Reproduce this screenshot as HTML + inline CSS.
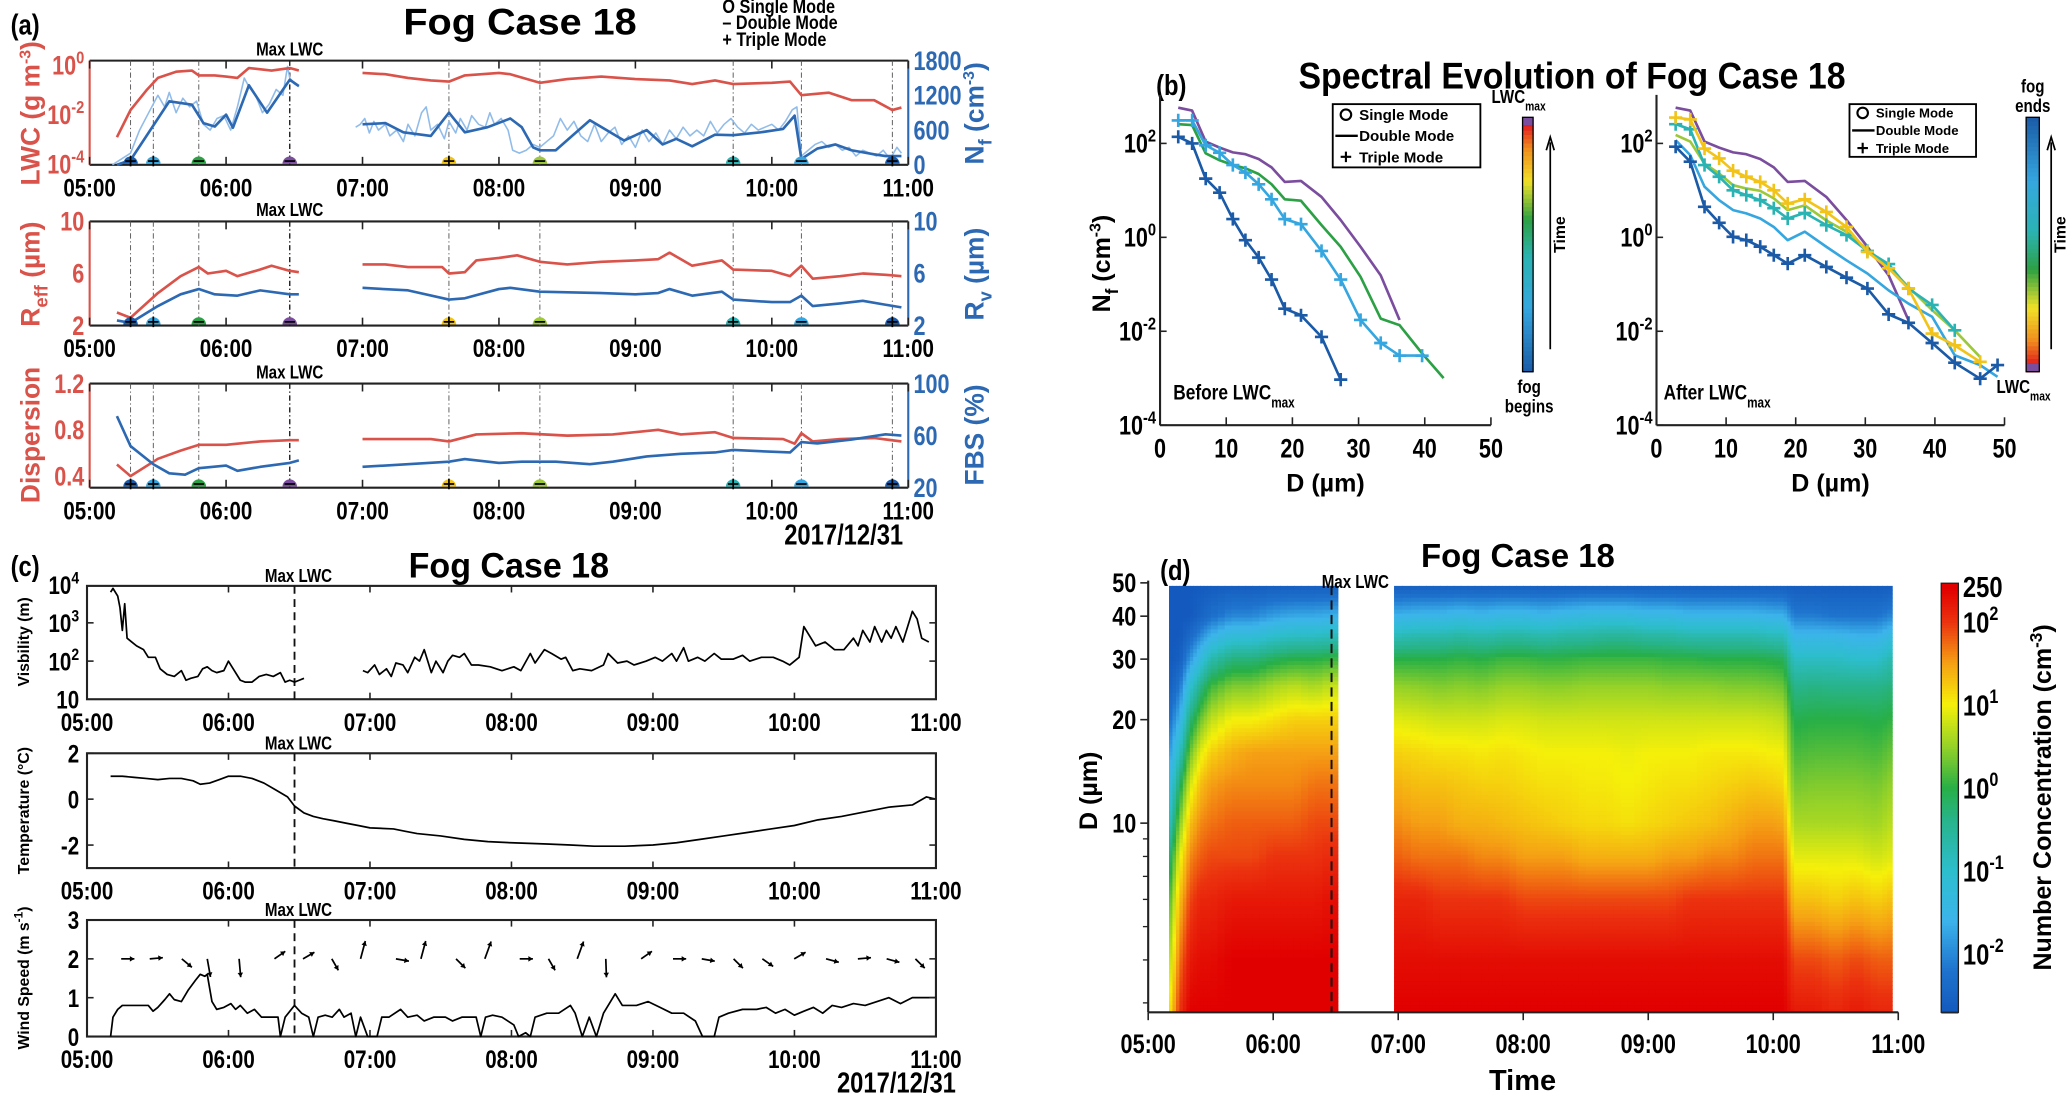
<!DOCTYPE html>
<html><head><meta charset="utf-8"><style>
html,body{margin:0;padding:0;background:#fff;}
svg{display:block;}
text{font-family:"Liberation Sans Narrow","Liberation Sans",sans-serif;font-weight:bold;}
.w{font-family:"Liberation Sans",sans-serif;}
</style></head><body>
<svg id="fig" xmlns="http://www.w3.org/2000/svg" width="2067" height="1094" viewBox="0 0 1568 830" preserveAspectRatio="none">
<rect x="0" y="0" width="1568" height="830" fill="#fff"/>
<text x="8" y="26" font-size="22">(a)</text>
<text x="306" y="26" font-size="28" textLength="177" lengthAdjust="spacingAndGlyphs">Fog Case 18</text>
<text x="548" y="10" font-size="15">O Single Mode</text>
<text x="548" y="22" font-size="15">– Double Mode</text>
<text x="548" y="35" font-size="15">+ Triple Mode</text>
<text x="640" y="413" font-size="22" text-anchor="middle">2017/12/31</text>
<text x="8" y="437" font-size="22">(c)</text>
<text x="310" y="438" font-size="27" textLength="152" lengthAdjust="spacingAndGlyphs">Fog Case 18</text>
<text x="680" y="829" font-size="22" text-anchor="middle">2017/12/31</text>
<text x="877" y="72" font-size="22">(b)</text>
<text x="985" y="67" font-size="28" textLength="415" lengthAdjust="spacingAndGlyphs">Spectral Evolution of Fog Case 18</text>
<text x="880" y="440" font-size="22">(d)</text>
<text x="1078" y="430" font-size="25" textLength="147" lengthAdjust="spacingAndGlyphs">Fog Case 18</text>
<text x="1155" y="827" font-size="22" text-anchor="middle" class="w">Time</text>
</svg>
<script>
// ===== Panel (a) data =====
const modeTimes=[18,28,48,88,158,198,283,313,353];
const modeColors=['#1a5aa6','#35a6df','#2ca044','#7b4d9e','#f2c318','#9cc83a','#2bb3b3','#35a6df','#1a5aa6'];
const modeTypes=['+','+','-','-','+','-','+','-','+'];
const lwcT=[12,18,25,30,38,45,48,55,60,65,70,80,88,92,105,120,130,140,150,158,165,180,185,198,210,225,240,255,265,275,283,300,308,313,325,335,345,353,357];
const lwcLog=[-2.9,-1.8,-1.0,-0.5,-0.25,-0.2,-0.4,-0.4,-0.45,-0.5,-0.1,-0.2,-0.1,-0.2,null,-0.3,-0.35,-0.5,-0.6,-0.65,-0.4,-0.3,-0.35,-0.7,-0.55,-0.45,-0.55,-0.6,-0.75,-0.6,-0.75,-0.7,-0.65,-1.2,-1.1,-1.4,-1.4,-1.8,-1.7];
const nfT=[12,18,35,45,50,55,60,63,70,78,88,92,105,120,130,138,150,158,165,175,185,190,195,198,205,220,235,245,252,258,265,275,283,295,305,310,313,320,328,335,345,350,357];
const nfV=[0,80,1095,1040,720,660,865,640,1375,900,1470,1360,null,700,720,560,500,900,560,650,800,650,300,250,250,770,420,600,350,450,320,520,510,560,620,850,100,280,350,250,180,150,150];
const nfRawT=[10,14,18,22,26,30,33,35,38,41,44,47,50,53,56,59,62,65,68,70,73,76,79,82,85,87,88,90,92,105,117,119,121,123,125,127,130,132,135,138,140,143,146,148,150,153,156,158,161,163,166,168,171,174,176,178,181,184,186,189,192,195,198,201,204,207,210,213,216,219,222,225,228,231,234,237,240,243,246,249,252,255,258,261,264,267,270,273,276,279,282,285,288,291,294,297,300,303,306,309,311,313,316,319,322,325,328,331,334,337,340,343,346,349,352,355,357];
const nfRawV=[0,100,200,600,900,1200,1000,1250,900,1150,1000,1100,700,600,800,850,600,1000,1500,1350,1200,900,1050,1300,1200,1700,1500,1400,1350,null,650,700,800,550,750,600,700,500,600,400,700,500,900,1000,600,700,450,750,550,800,600,850,700,650,900,700,800,600,250,200,250,350,300,400,500,800,600,750,500,400,700,400,550,650,350,500,300,600,400,550,350,600,450,650,500,600,500,750,550,700,800,650,550,700,600,650,700,600,750,950,1000,150,250,350,400,300,350,250,300,150,250,200,150,250,100,300,200];
const reffT=[12,18,30,40,48,52,60,65,75,80,88,92,105,120,130,140,155,158,165,170,180,188,198,210,225,240,250,255,265,278,283,300,308,313,318,330,340,350,357];
const reffV=[3.0,2.6,4.5,5.8,6.5,6.0,6.2,5.8,6.3,6.6,6.2,6.1,null,6.7,6.7,6.5,6.5,6.0,6.1,7.0,7.2,7.4,6.9,6.7,6.9,7.0,7.1,7.6,6.6,7.0,6.3,6.2,5.8,6.6,5.6,5.8,6.0,5.9,5.8];
const rvT=[12,18,30,40,48,55,65,75,88,92,105,120,140,158,165,180,185,198,225,240,250,255,265,278,283,300,308,313,318,330,340,350,357];
const rvV=[2.4,2.2,3.5,4.4,4.8,4.4,4.3,4.7,4.4,4.4,null,4.9,4.7,4.0,4.1,4.8,4.9,4.6,4.5,4.4,4.5,4.8,4.3,4.6,4.0,3.8,3.8,4.3,3.5,3.7,3.9,3.6,3.4];
const dispT=[12,18,30,40,48,60,75,88,92,105,120,150,158,170,190,210,230,250,260,275,283,305,310,313,318,330,345,357];
const dispV=[0.5,0.4,0.55,0.62,0.67,0.67,0.7,0.71,0.71,null,0.72,0.72,0.7,0.76,0.77,0.75,0.76,0.8,0.76,0.78,0.73,0.72,0.68,0.77,0.7,0.72,0.73,0.7];
const fbsT=[12,18,28,35,42,48,60,65,75,88,92,105,120,140,158,165,180,190,205,220,230,245,260,275,283,308,313,320,335,350,357];
const fbsV=[75,52,38,31,30,35,37,33,36,39,41,null,36,38,40,42,39,40,40,38,40,44,46,47,49,47,55,54,57,61,60];
const hourLabels=['05:00','06:00','07:00','08:00','09:00','10:00','11:00'];
// ===== Panel (c) data =====
const visT=[10,11,13,14,15,16,17,19,21,24,26,29,31,34,37,40,42,44,47,49,51,53,55,58,60,62,65,67,70,73,76,79,82,84,86,88,90,92,105,117,119,122,124,127,129,131,134,136,139,141,143,146,148,151,153,155,158,160,163,166,171,176,181,184,188,190,194,197,201,203,206,209,214,219,221,225,229,232,237,241,244,248,250,253,255,259,262,266,269,274,278,281,286,291,295,298,302,304,307,309,313,317,321,325,327,329,332,334,337,339,341,343,346,350,352,354,357];
const visLog=[3.8,3.9,3.7,3.4,2.8,3.5,2.6,2.5,2.4,2.3,2.1,2.1,1.8,1.65,1.6,1.75,1.5,1.55,1.6,1.8,1.85,1.75,1.7,1.75,2.0,1.8,1.5,1.45,1.45,1.6,1.65,1.6,1.7,1.45,1.5,1.45,1.5,1.55,null,1.75,1.7,1.9,1.65,1.8,1.6,1.95,1.9,1.7,2.1,2.0,2.3,1.7,2.0,1.7,2.0,2.15,2.1,2.2,1.9,1.9,1.85,1.75,1.85,1.75,2.2,1.95,2.3,2.2,2.05,2.1,1.75,1.8,1.75,1.9,2.2,1.95,2.0,1.9,2.0,2.1,2.0,2.2,2.0,2.35,2.0,2.1,2.0,2.2,2.05,2.05,2.15,2.0,2.1,2.1,2.0,1.9,2.1,2.9,2.6,2.4,2.5,2.3,2.3,2.6,2.4,2.8,2.5,2.9,2.5,2.8,2.6,2.9,2.5,3.3,3.1,2.6,2.5];
const tempT=[10,15,20,25,30,35,40,45,48,52,56,60,65,70,75,80,85,88,92,96,100,105,110,115,120,130,135,140,150,160,170,180,195,205,215,228,240,250,260,270,280,290,300,310,320,330,340,350,356,360];
const tempV=[1.0,1.0,0.95,0.9,0.85,0.9,0.9,0.8,0.65,0.7,0.85,1.0,1.0,0.9,0.7,0.4,0.1,-0.3,-0.6,-0.75,-0.85,-0.95,-1.05,-1.15,-1.25,-1.3,-1.4,-1.5,-1.6,-1.75,-1.85,-1.9,-1.95,-2.0,-2.05,-2.05,-2.0,-1.9,-1.75,-1.6,-1.45,-1.3,-1.15,-0.9,-0.75,-0.55,-0.35,-0.25,0.1,0.0];
const windT=[10,11,13,15,26,28,30,33,35,37,40,43,46,48,50,51,53,55,58,61,63,65,68,71,74,77,81,82,84,88,91,94,96,98,101,104,107,109,112,114,116,119,123,125,128,133,136,140,143,147,152,155,159,165,167,169,172,176,181,183,186,188,190,195,200,205,207,210,213,216,219,224,227,233,238,243,248,253,258,261,266,268,272,278,284,288,292,296,300,304,308,312,316,320,325,330,335,340,345,350,360];
const windV=[0,0.5,0.7,0.8,0.8,0.65,0.75,0.95,1.1,0.95,0.9,1.2,1.45,1.6,1.55,1.6,0.9,0.7,0.75,0.85,0.7,0.8,0.6,0.7,0.5,0.5,0.5,0,0.5,0.8,0.6,0.5,0,0.5,0.55,0.5,0.7,0.5,0.6,0,0.5,0,0,0.5,0.5,0.7,0.5,0.55,0.4,0.5,0.5,0.4,0.5,0.5,0,0.5,0.55,0.5,0.3,0,0.1,0,0.5,0.6,0.6,0.8,0.6,0,0.5,0,0.6,1.1,0.8,0.8,0.9,0.75,0.6,0.6,0.4,0,0,0.5,0.6,0.7,0.7,0.75,0.6,0.7,0.55,0.65,0.75,0.6,0.8,0.75,0.85,0.8,0.9,1.0,0.85,1.0,1.0];
const arrowT=[14.5,26.6,40.2,51,64.5,79.5,91.6,103.8,116,131,141.6,156.5,168.7,183.5,195.7,207.9,220,235,248.5,260.7,274.2,286.4,299.9,313.4,326.9,339.1,351.3];
const arrowDir=[0,-5,40,80,85,-35,-30,60,-75,10,-75,45,-70,0,60,-70,88,-35,0,10,45,35,-30,15,-5,15,45];
// ===== Panel (b) data =====
const binD=[2.75,4.85,6.9,9.0,11.0,12.9,14.9,16.85,18.85,21.3,24.4,27.3,30.3,33.35,36.2,39.6,42.85,46.5,49.0];
const bDarkBlue=[2.14,2.0,1.25,0.95,0.39,-0.06,-0.43,-0.9,-1.52,-1.66,-2.12,-3.03];
const bLightBlue=[2.49,2.49,1.96,1.8,1.54,1.38,1.13,0.81,0.39,0.28,-0.29,-0.9,-1.76,-2.25,-2.52,-2.52];
const bGreen=[2.41,2.39,1.79,1.64,1.54,1.47,1.35,1.13,0.81,0.78,0.26,-0.2,-0.84,-1.73,-1.87,-2.47,-3.0];
const bPurple=[2.76,2.70,2.04,1.91,1.81,1.77,1.67,1.49,1.18,1.20,0.86,0.37,-0.2,-0.81,-1.76];
const aYellow=[2.55,2.51,1.89,1.68,1.42,1.29,1.18,1.0,0.72,0.81,0.54,0.22,-0.31,-0.66,-1.09,-2.05,-2.3,-2.65];
const aYellowGreen=[2.18,2.04,1.57,1.36,1.11,1.04,0.99,0.83,0.58,0.68,0.36,0.12,-0.26,-0.63,-1.05,-1.55,-1.98,-2.55];
const aTeal=[2.41,2.3,1.54,1.29,1.0,0.9,0.79,0.62,0.4,0.52,0.26,0.05,-0.29,-0.57,-1.09,-1.44,-1.98];
const aLightBlue=[2.07,1.75,1.08,0.79,0.58,0.51,0.4,0.22,-0.06,0.12,-0.2,-0.49,-0.77,-1.13,-1.41,-1.69,-2.51,-2.72,-2.97];
const aDarkBlue=[1.93,1.61,0.65,0.31,0.01,-0.06,-0.2,-0.38,-0.56,-0.38,-0.63,-0.86,-1.09,-1.64,-1.82,-2.25,-2.67,-3.01,-2.72];
const bXTicks=[0,10,20,30,40,50];
const bYTicks=[2,0,-2,-4];
// ===== Panel (d) data =====
const hmDiam=[2.8,4,6,8,10,13,16,20,25,30,35,40,50];
const hmTimes1=[10,15,20,25,30,40,50,60,70,80,91];
const hmTimes2=[118,130,140,150,160,170,180,190,200,210,220,230,240,250,260,270,280,290,300,305,310,320,330,340,350,357];
const hmRows1=[
[1.0,0.6,0.1,-0.4,-1.0,-1.5,-1.9,-2.3,-2.6,-2.7,-2.7,-2.7,-2.7],
[2.0,1.7,1.3,0.9,0.4,-0.2,-0.9,-1.6,-2.2,-2.6,-2.7,-2.7,-2.7],
[2.4,2.2,1.9,1.6,1.3,0.8,0.3,-0.3,-1.1,-1.9,-2.4,-2.7,-2.7],
[2.4,2.3,2.1,1.8,1.6,1.3,0.9,0.3,-0.4,-1.3,-2.0,-2.5,-2.7],
[2.4,2.3,2.1,1.9,1.7,1.5,1.2,0.7,0.1,-0.7,-1.6,-2.3,-2.7],
[2.4,2.4,2.2,1.9,1.8,1.6,1.4,1.0,0.4,-0.3,-1.2,-2.0,-2.7],
[2.4,2.4,2.2,1.9,1.8,1.6,1.5,1.0,0.4,-0.3,-1.2,-2.0,-2.7],
[2.4,2.4,2.2,2.0,1.8,1.6,1.5,1.1,0.6,-0.1,-1.0,-1.8,-2.7],
[2.4,2.4,2.2,2.0,1.8,1.6,1.5,1.2,0.7,0.0,-0.9,-1.7,-2.7],
[2.4,2.4,2.2,2.0,1.9,1.7,1.5,1.2,0.6,0.0,-0.9,-1.7,-2.7],
[2.4,2.4,2.3,2.1,1.9,1.7,1.5,1.2,0.8,0.1,-0.8,-1.6,-2.7]];
const hmRows2=[
[2.4,2.3,2.1,1.8,1.6,1.4,1.2,0.9,0.5,0.0,-0.8,-1.6,-2.7],
[2.4,2.3,2.1,1.7,1.5,1.3,1.15,0.85,0.45,0.0,-0.7,-1.5,-2.7],
[2.4,2.3,2.0,1.7,1.5,1.3,1.1,0.8,0.4,0.0,-0.7,-1.5,-2.7],
[2.4,2.3,2.0,1.7,1.4,1.25,1.1,0.8,0.45,0.05,-0.6,-1.4,-2.7],
[2.4,2.3,2.0,1.6,1.4,1.2,1.05,0.8,0.4,0.0,-0.7,-1.5,-2.7],
[2.4,2.3,2.0,1.6,1.35,1.2,1.1,0.85,0.5,0.1,-0.6,-1.4,-2.7],
[2.4,2.3,1.9,1.5,1.3,1.15,1.05,0.85,0.5,0.1,-0.6,-1.4,-2.7],
[2.4,2.3,1.9,1.5,1.25,1.1,1.0,0.8,0.45,0.05,-0.7,-1.5,-2.7],
[2.4,2.3,1.9,1.5,1.2,1.1,1.0,0.8,0.45,0.05,-0.6,-1.4,-2.7],
[2.4,2.3,1.9,1.4,1.15,1.05,1.0,0.8,0.5,0.1,-0.6,-1.3,-2.7],
[2.4,2.3,1.9,1.4,1.15,1.05,1.0,0.8,0.5,0.1,-0.5,-1.3,-2.7],
[2.4,2.3,1.9,1.4,1.1,1.0,0.95,0.8,0.5,0.1,-0.5,-1.3,-2.7],
[2.4,2.3,1.9,1.4,1.15,1.05,1.0,0.8,0.5,0.1,-0.6,-1.4,-2.7],
[2.4,2.3,1.9,1.5,1.2,1.1,1.0,0.8,0.45,0.05,-0.6,-1.4,-2.7],
[2.4,2.3,2.0,1.5,1.25,1.1,1.0,0.8,0.45,0.05,-0.7,-1.5,-2.7],
[2.4,2.3,2.0,1.6,1.3,1.15,1.05,0.8,0.45,0.0,-0.7,-1.5,-2.7],
[2.4,2.3,2.0,1.6,1.4,1.2,1.05,0.8,0.4,0.0,-0.7,-1.5,-2.7],
[2.4,2.3,2.0,1.7,1.5,1.25,1.05,0.8,0.4,0.0,-0.7,-1.5,-2.7],
[2.4,2.3,2.0,1.7,1.5,1.2,1.0,0.75,0.35,-0.05,-0.8,-1.6,-2.7],
[2.4,2.3,2.0,1.7,1.45,1.15,1.0,0.7,0.3,-0.1,-0.8,-1.6,-2.7],
[2.2,1.9,1.3,0.9,0.6,0.35,0.15,-0.05,-0.4,-0.9,-1.5,-2.1,-2.7],
[2.2,1.9,1.3,0.9,0.6,0.4,0.2,0.0,-0.35,-0.9,-1.5,-2.1,-2.7],
[2.1,1.8,1.2,0.9,0.6,0.4,0.2,0.0,-0.4,-0.9,-1.5,-2.2,-2.7],
[2.2,1.9,1.3,0.9,0.6,0.4,0.2,0.0,-0.4,-1.0,-1.6,-2.2,-2.7],
[2.1,1.8,1.2,0.8,0.55,0.35,0.15,-0.05,-0.4,-1.0,-1.6,-2.2,-2.7],
[2.1,1.8,1.3,0.9,0.7,0.5,0.3,0.05,-0.3,-0.7,-1.3,-2.0,-2.7]];
const dYTicks=[10,20,30,40,50];
const cbTicks=[2,1,0,-1,-2];

const NS='http://www.w3.org/2000/svg';
const svg=document.getElementById('fig');
function E(tag,a,p){const e=document.createElementNS(NS,tag);for(const k in a)e.setAttribute(k,a[k]);(p||svg).appendChild(e);return e;}
function T(x,y,s,size,anchor,color,extra){const e=E('text',{x:x,y:y,'font-size':size,'text-anchor':anchor||'start',fill:color||'#000'});if(extra)for(const k in extra)e.setAttribute(k,extra[k]);e.textContent=s;return e;}
function TS(x,y,base,sup,size,anchor,color,extra){const e=E('text',{x:x,y:y,'font-size':size,'text-anchor':anchor||'start',fill:color||'#000'});if(extra)for(const k in extra)e.setAttribute(k,extra[k]);
 const a=E('tspan',{},e);a.textContent=base;const b=E('tspan',{dy:-size*0.42,'font-size':size*0.68},e);b.textContent=sup;return e;}
function pathOf(ts,vs,fx,fy){let d='',pen=false;for(let i=0;i<ts.length;i++){if(vs[i]===null){pen=false;continue;}d+=(pen?'L':'M')+fx(ts[i]).toFixed(1)+','+fy(vs[i]).toFixed(1);pen=true;}return d;}
function line(x1,y1,x2,y2,st,w,dash){const a={x1:x1,y1:y1,x2:x2,y2:y2,stroke:st,'stroke-width':w||1};if(dash)a['stroke-dasharray']=dash;return E('line',a);}

// ===== Panel (a) =====
const xa=m=>68+m/60*103.5;
const RED='#d9534a',LRED='#f2a9a2',BLUE='#2d69b3',LBLUE='#91bce9';
const panels=[
 {top:46,bot:125,name:'lwc-nf'},
 {top:168,bot:247,name:'reff-rv'},
 {top:291,bot:370,name:'dispersion-fbs'}];
const yL1=v=>49.7-v*18.75, yR1=n=>125-n/1800*79;
const yL2=v=>247-(v-2)/8*79, yR2=yL2;
const yL3=v=>370-(v-0.3)/0.9*79, yR3=v=>370-(v-20)/80*79;
panels.forEach((p,pi)=>{
 let e;
 e=line(68,p.top,689,p.top,'#222',1.6);
 e=line(68,p.bot,689,p.bot,'#222',1.6);
 e=line(68,p.top,68,p.bot,RED,1.6);
 e=line(689,p.top,689,p.bot,BLUE,1.6);
 for(let h=0;h<=6;h++){const x=xa(h*60);
  e=line(x,p.bot,x,p.bot-6,'#222',1.2);
  e=line(x,p.top,x,p.top+6,'#222',1.2);
  e=T(x,p.bot+24,hourLabels[h],19,'middle');}
 modeTimes.forEach((m,i)=>{const x=xa(m);
  e=line(x,p.top,x,p.bot,i===3?'#111':'#555',i===3?1:0.7,'4,2,1,2');});
 e=T(xa(88),p.top-4,'Max LWC',14,'middle');
});
function series(ts,vs,fy,color,w,name){const e=E('path',{d:pathOf(ts,vs,xa,fy),fill:'none',stroke:color,'stroke-width':w,'stroke-linejoin':'round'});return e;}
series(nfRawT,nfRawV,yR1,LBLUE,1.2,'nf-raw-line');
series(lwcT,lwcLog,yL1,RED,2,'lwc-line');
series(nfT,nfV,yR1,BLUE,2,'nf-line');
series(reffT,reffV,yL2,RED,2,'reff-line');
series(rvT,rvV,yR2,BLUE,2,'rv-line');
series(dispT,dispV,yL3,RED,2,'dispersion-line');
series(fbsT,fbsV,yR3,BLUE,2,'fbs-line');
panels.forEach(p=>{modeTimes.forEach((m,i)=>{const x=xa(m),y=p.bot-0.8;
 let e=E('path',{d:`M${x-5.5},${y}A5.5,5.5 0 0 1 ${x+5.5},${y}Z`,fill:modeColors[i]});
 e=line(x-4,y-2,x+4,y-2,'#000',1.3);
 if(modeTypes[i]==='+'){e=line(x,y-6,x,y+2,'#000',1.3);}
});});
function tl(x,y,s,c,anc,sup){let e=sup!==undefined?TS(x,y,s,sup,20,anc,c):T(x,y,s,20,anc,c);return e;}
const lwcTicks=[0,-2,-4];
lwcTicks.forEach(v=>tl(64,yL1(v)+7,'10',RED,'end',String(v)));
[1800,1200,600,0].forEach(v=>tl(693,yR1(v)+7,String(v),BLUE,'start'));
[10,6,2].forEach(v=>{tl(64,yL2(v)+7,String(v),RED,'end');tl(693,yR2(v)+7,String(v),BLUE,'start');});
[1.2,0.8,0.4].forEach(v=>tl(64,yL3(v)+7,v.toFixed(1),RED,'end'));
[100,60,20].forEach(v=>tl(693,yR3(v)+7,String(v),BLUE,'start'));
function rot(x,y,parts,size,color,name){const e=E('text',{x:0,y:0,'font-size':size,fill:color,'text-anchor':'middle',transform:`translate(${x},${y}) rotate(-90)`,class:'w'});
 parts.forEach(p=>{const t=E('tspan',p[1]?{dy:p[1],'font-size':p[2]||size}:{},e);t.textContent=p[0];});return e;}
rot(30,86,[['LWC (g m'],['-3',-7,12],[')',7]],20,RED,'lwc-axis-title');
rot(30,208,[['R'],['eff',6,14],[' (µm)',-6]],20,RED,'reff-axis-title');
rot(30,330,[['Dispersion']],20,RED,'dispersion-axis-title');
rot(746,86,[['N'],['f',6,14],[' (cm',-6],['-3',-7,12],[')',7]],20,BLUE,'nf-axis-title');
rot(746,208,[['R'],['v',6,14],[' (µm)',-6]],20,BLUE,'rv-axis-title');
rot(746,330,[['FBS (%)']],20,BLUE,'fbs-axis-title');

// ===== Panel (c) =====
const xc=m=>66+m/60*107.33;
const cp=[{top:444.5,bot:530.5,name:'visibility'},{top:571.5,bot:658.6,name:'temperature'},{top:698,bot:786.4,name:'wind'}];
const yVis=v=>530.6-(v-1)*29.03, yTemp=v=>606.3-v*17.42, yWind=v=>786.4-v*29.47;
cp.forEach(p=>{let e=E('rect',{x:66,y:p.top,width:644,height:p.bot-p.top,fill:'none',stroke:'#222','stroke-width':1.6});
 for(let h=0;h<=6;h++){const x=xc(h*60);
  e=line(x,p.bot,x,p.bot-5,'#222',1.2);
  e=line(x,p.top,x,p.top+5,'#222',1.2);
  e=T(x,p.bot+24,hourLabels[h],19,'middle');}
 e=line(xc(88),p.top,xc(88),p.bot,'#111',1.4,'6,4');
 e=T(xc(88)+3,p.top-3,'Max LWC',14,'middle');
});
function cser(ts,vs,fy,name){const e=E('path',{d:pathOf(ts,vs,xc,fy),fill:'none',stroke:'#000','stroke-width':1.3,'stroke-linejoin':'round'});}
cser(visT,visLog,yVis,'visibility-line');
cser(tempT,tempV,yTemp,'temperature-line');
cser(windT,windV,yWind,'wind-speed-line');
arrowT.forEach((m,i)=>{const x=xc(m),y=yWind(2),a=arrowDir[i]*Math.PI/180,L=Math.abs(arrowDir[i])>60?14:10;
 const x2=x+L*Math.cos(a),y2=y+L*Math.sin(a);
 let e=line(x,y,x2,y2,'#000',1.3);
 const h1=a+2.6,h2=a-2.6;
 e=E('path',{d:`M${x2},${y2}L${x2+4*Math.cos(h1)},${y2+4*Math.sin(h1)}L${x2+4*Math.cos(h2)},${y2+4*Math.sin(h2)}Z`,fill:'#000'});});
function ctl(y,b,s,sup){let e=sup!==undefined?TS(60,y+7,b,sup,19,'end'):T(60,y+7,b,19,'end');}
[4,3,2].forEach(v=>ctl(yVis(v),'10',null,String(v)));ctl(yVis(1),'10');
[2,0,-2].forEach(v=>{ctl(yTemp(v),String(v));let e=line(66,yTemp(v),71,yTemp(v),'#222',1.2);e=line(710,yTemp(v),705,yTemp(v),'#222',1.2);});
[3,2,1,0].forEach(v=>{ctl(yWind(v),String(v));let e=line(66,yWind(v),71,yWind(v),'#222',1.2);e=line(710,yWind(v),705,yWind(v),'#222',1.2);});
[2,3].forEach(v=>{let e=line(66,yVis(v),71,yVis(v),'#222',1.2);e=line(710,yVis(v),705,yVis(v),'#222',1.2);});
rot(22,487,[['Visbility (m)']],12,'#000','visibility-axis-title');
rot(22,615,[['Temperature (°C)']],12,'#000','temperature-axis-title');
rot(22,742,[['Wind Speed (m s'],['-1',-5,9],[')',5]],12,'#000','wind-axis-title');

// ===== Panel (b) =====
const ybl=v=>108.8-(v-2)*35.63;
const xbL=d=>880+d*5.02, xbR=d=>1256.6+d*5.28;
function bax(x0,fx,name){let e=line(x0,72,x0,322.6,'#222',1.6);
 e=line(x0,322.6,fx(50),322.6,'#222',1.6);
 bXTicks.forEach(d=>{const x=fx(d);e=line(x,322.6,x,316.6,'#222',1.2);
  e=T(x,347,String(d),20,'middle');});
 bYTicks.forEach(v=>{e=line(x0,ybl(v),x0+5,ybl(v),'#222',1.2);
  e=TS(x0-3,ybl(v)+7,'10',String(v),20,'end');});
 e=T((x0+fx(50))/2,373,'D (µm)',19,'middle',null,{class:'w'});}
bax(880,xbL,'spectra-before');bax(1256.6,xbR,'spectra-after');
function spec(vals,fx,color,plus,name){const d=binD.slice(0,vals.length);
 let e=E('path',{d:pathOf(d,vals,fx,ybl),fill:'none',stroke:color,'stroke-width':2,'stroke-linejoin':'round'});
 if(plus)d.forEach((dd,i)=>{const x=fx(dd),y=ybl(vals[i]);e=E('path',{d:`M${x-5},${y}H${x+5}M${x},${y-5}V${y+5}`,stroke:color,'stroke-width':2});});}
spec(bPurple,xbL,'#7b4d9e',false,'before-purple-spectrum');
spec(bGreen,xbL,'#2ca044',false,'before-green-spectrum');
spec(bLightBlue,xbL,'#35a6df',true,'before-lightblue-spectrum');
spec(bDarkBlue,xbL,'#1a5aa6',true,'before-darkblue-spectrum');
spec(bPurple,xbR,'#7b4d9e',false,'after-purple-spectrum');
spec(aLightBlue,xbR,'#35a6df',false,'after-lightblue-spectrum');
spec(aYellowGreen,xbR,'#9cc83a',false,'after-yellowgreen-spectrum');
spec(aTeal,xbR,'#2bb3b3',true,'after-teal-spectrum');
spec(aYellow,xbR,'#f2c318',true,'after-yellow-spectrum');
spec(aDarkBlue,xbR,'#1a5aa6',true,'after-darkblue-spectrum');
rot(842,200,[['N'],['f',6,13],[' (cm',-6],['-3',-7,12],[')',7]],19,'#000','spectra-y-axis-title');
let tt=TS(890,303,'Before LWC','max',16,'start');tt.lastChild.setAttribute('dy',6);
tt=TS(1262,303,'After LWC','max',16,'start');tt.lastChild.setAttribute('dy',6);
function legend(x,y,w,h,fs,name){let e=E('rect',{x:x,y:y,width:w,height:h,fill:'#fff',stroke:'#000','stroke-width':1.4});
 const g=h/3;
 e=E('circle',{cx:x+10,cy:y+g*0.5,r:4,fill:'none',stroke:'#000','stroke-width':1.6});
 e=T(x+20,y+g*0.5+fs*0.36,'Single Mode',fs,'start',null,{class:'w'});
 e=line(x+2,y+g*1.5,x+19,y+g*1.5,'#000',1.8);
 e=T(x+20,y+g*1.5+fs*0.36,'Double Mode',fs,'start',null,{class:'w'});
 e=E('path',{d:`M${x+6},${y+g*2.5}H${x+14}M${x+10},${y+g*2.5-4}V${y+g*2.5+4}`,stroke:'#000','stroke-width':1.6});
 e=T(x+20,y+g*2.5+fs*0.36,'Triple Mode',fs,'start',null,{class:'w'});}
legend(1011,79,112,48,11.5,'legend-before');legend(1403,79,96,40,10,'legend-after');

const cmapStops=[[-2.7,[20,90,190]],[-2.2,[30,115,205]],[-1.6,[60,180,235]],[-1.0,[45,190,205]],[-0.4,[40,180,140]],[0,[40,175,70]],[0.5,[150,210,40]],[1.0,[245,240,10]],[1.5,[245,160,20]],[2.0,[235,50,15]],[2.4,[225,0,0]]];
function cmap(v){if(v<=cmapStops[0][0])return cmapStops[0][1];for(let i=1;i<cmapStops.length;i++){if(v<=cmapStops[i][0]){const a=cmapStops[i-1],b=cmapStops[i],f=(v-a[0])/(b[0]-a[0]);return a[1].map((c,k)=>Math.round(c+(b[1][k]-c)*f));}}return cmapStops[cmapStops.length-1][1];}
const rgb=c=>`rgb(${c[0]},${c[1]},${c[2]})`;
const specStops=[[0,[26,90,166]],[0.25,[53,166,223]],[0.45,[43,179,179]],[0.6,[44,160,68]],[0.75,[240,225,40]],[0.88,[240,140,30]],[0.97,[225,30,30]],[1,[225,30,30]]];
function scol(f){for(let i=1;i<specStops.length;i++){if(f<=specStops[i][0]){const a=specStops[i-1],b=specStops[i],g=(f-a[0])/(b[0]-a[0]);return a[1].map((c,k)=>Math.round(c+(b[1][k]-c)*g));}}return specStops[specStops.length-1][1];}
function cbarB(x,w,reverse,name){const top=89,bot=282,n=60;
 for(let i=0;i<n;i++){const f=(i+0.5)/n;const y=bot-(i+1)/n*(bot-top);let e=E('rect',{x:x,y:reverse?top+i/n*(bot-top):y,width:w,height:(bot-top)/n+0.6,fill:rgb(scol(f))});}
 let e=E('rect',{x:x,y:reverse?bot-6:top,width:w,height:6,fill:'#7b4d9e'});
 e=E('rect',{x:x,y:top,width:w,height:bot-top,fill:'none',stroke:'#000','stroke-width':1});}
cbarB(1155,8,false,'colorbar-before');cbarB(1537,10,true,'colorbar-after');
tt=TS(1152,78,'LWC','max',14,'middle');tt.lastChild.setAttribute('dy',6);
tt=T(1160,298,'fog',14,'middle');
tt=T(1160,313,'begins',14,'middle');
tt=T(1542,70,'fog',14,'middle');
tt=T(1542,85,'ends',14,'middle');
tt=TS(1535,298,'LWC','max',14,'middle');tt.lastChild.setAttribute('dy',6);
[[1176,'before'],[1556,'after']].forEach(([x,n])=>{let e=line(x,265,x,108,'#000',1.3);
 e=E('path',{d:`M${x-3},${114}L${x},${104}L${x+3},${114}`,fill:'none',stroke:'#000','stroke-width':1.3});
 rot(x+11,178,[['Time']],12,'#000','time-label-'+n);});

// ===== Panel (d) =====
const xd=m=>871+m/360*569;
const yd=D=>624.5-Math.log10(D/10)*260.8;
const yBot=768, yTopD=444.5;
function interpRow(row,D){const L=Math.log10(D);if(D<=hmDiam[0])return row[0];for(let i=1;i<hmDiam.length;i++){if(D<=hmDiam[i]){const a=Math.log10(hmDiam[i-1]),b=Math.log10(hmDiam[i]),f=(L-a)/(b-a);return row[i-1]+(row[i]-row[i-1])*f;}}return row[row.length-1];}
const hmG=E('g',{});
function drawHm(times,rows){const nsub=3,step=3;
 for(let i=0;i<times.length-1;i++){for(let s=0;s<nsub;s++){const f=(s+0.5)/nsub;const t0=times[i]+(times[i+1]-times[i])*s/nsub,t1=times[i]+(times[i+1]-times[i])*(s+1)/nsub;const x0=xd(t0),x1=xd(t1);
  for(let y=yTopD;y<yBot;y+=step){const D=10*Math.pow(10,(624.5-(y+step/2))/260.8);const v=interpRow(rows[i],D)*(1-f)+interpRow(rows[i+1],D)*f;
   const e=E('rect',{x:x0.toFixed(1),y:y.toFixed(1),width:(x1-x0+0.5).toFixed(1),height:Math.min(step+0.5,yBot-y).toFixed(1),fill:rgb(cmap(v))},hmG);}}}}
drawHm(hmTimes1,hmRows1);drawHm(hmTimes2,hmRows2);
let de=line(871,yTopD-4,871,yBot,'#222',1.6);
de=line(871,yBot,1440,yBot,'#222',1.6);
for(let h=0;h<=6;h++){const x=xd(h*60);de=line(x,yBot,x,yBot+6,'#222',1.2);
 de=T(x,799,hourLabels[h],20,'middle');}
dYTicks.forEach(D=>{de=line(871,yd(D),865,yd(D),'#222',1.2);
 de=T(862,yd(D)+7,String(D),20,'end');});
[3,4,5,6,7,8,9].forEach(D=>{de=line(871,yd(D),867,yd(D),'#222',1);});
rot(832,600,[['D (µm)']],19,'#000','panel-d-y-axis-title');
de=line(xd(88),yTopD,xd(88),yBot,'#111',1.5,'7,4');
de=T(xd(88)+18,446,'Max LWC',14,'middle');
const cbTop=442.5,cbBot=768,yCb=v=>471.7-(v-2)*63;
for(let y=cbTop;y<cbBot;y+=2){const v=2-(y+1-471.7)/63;de=E('rect',{x:1472.6,y:y,width:13,height:2.5,fill:rgb(cmap(v))});}
de=E('rect',{x:1472.6,y:cbTop,width:13,height:cbBot-cbTop,fill:'none',stroke:'#222','stroke-width':1});
de=T(1489,453,'250',22,'start');
cbTicks.forEach(v=>{de=TS(1489,yCb(v)+8,'10',String(v),22,'start');});
rot(1556,605,[['Number Concentration (cm'],['-3',-7,13],[')',7]],19,'#000','colorbar-d-title');

// condense narrow-style text (emulates a condensed face)
document.querySelectorAll('text').forEach(t=>{
 if(t.classList.contains('w')||t.hasAttribute('textLength')||t.hasAttribute('transform'))return;
 const x=parseFloat(t.getAttribute('x'));t.setAttribute('x',(x/0.82).toFixed(1));t.setAttribute('transform','scale(0.82,1)');
});
</script>
</body></html>
